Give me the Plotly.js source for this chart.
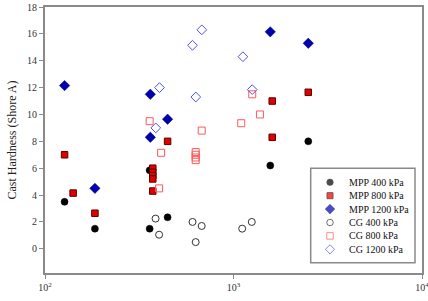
<!DOCTYPE html>
<html>
<head>
<meta charset="utf-8">
<script src="https://cdn.plot.ly/plotly-3.0.1.min.js"></script>
<style>
  html, body { margin: 0; padding: 0; background: #fff; }
  #chart { width: 428px; height: 301px; }
</style>
</head>
<body>
<div id="chart"></div>
<script>
// Cast hardness vs. log-scaled x for two process families at three pressures
const seriesNames = ['MPP 400 kPa', 'MPP 800 kPa', 'MPP 1200 kPa', 'CG 400 kPa', 'CG 800 kPa', 'CG 1200 kPa'];

const mpp400X = [127, 184, 359, 359, 447, 1567, 2493];
const mpp400Y = [3.5, 1.5, 1.5, 5.85, 2.35, 6.2, 8.0];

const mpp800X = [127, 141, 184, 373, 373, 373, 373, 373, 447, 1605, 1605, 2493];
const mpp800Y = [7.0, 4.15, 2.65, 6.0, 5.7, 5.45, 5.2, 4.3, 8.0, 11.0, 8.3, 11.65];

const mpp1200X = [127, 184, 362, 362, 447, 1567, 2493];
const mpp1200Y = [12.15, 4.5, 11.5, 8.3, 9.65, 16.15, 15.3];

const cg400X = [386, 403, 606, 630, 678, 1112, 1250];
const cg400Y = [2.25, 1.05, 2.0, 0.5, 1.7, 1.5, 2.0];

const cg800X = [359, 403, 413, 630, 630, 630, 630, 678, 1099, 1257, 1381];
const cg800Y = [9.5, 4.5, 7.15, 7.2, 7.0, 6.8, 6.6, 8.8, 9.35, 11.5, 10.0];

const cg1200X = [387, 405, 606, 631, 679, 1122, 1257];
const cg1200Y = [9.0, 12.0, 15.15, 11.3, 16.3, 14.3, 11.85];

const xTickVals = [100, 1000, 10000];
const xTickText = ['10<sup>2</sup>', '10<sup>3</sup>', '10<sup>4</sup>'];

const FONT = '"Liberation Serif", "Times New Roman", Times, serif';

// marker styles, one per series
const styles = [
  { symbol: 'circle',       size: 7,   color: '#000000', line: { color: '#000000', width: 0.5 } },
  { symbol: 'square',       size: 6.5, color: '#e00000', line: { color: '#5a0000', width: 1 } },
  { symbol: 'diamond',      size: 8,   color: '#0000b0', line: { color: '#00006a', width: 0.5 } },
  { symbol: 'circle-open',  size: 7,   color: '#333333', line: { color: '#333333', width: 1 } },
  { symbol: 'square-open',  size: 7,   color: '#ff5a5a', line: { color: '#ff5a5a', width: 1 } },
  { symbol: 'diamond-open', size: 7.5, color: '#5050f0', line: { color: '#5050f0', width: 1 } }
];

const xs = [mpp400X, mpp800X, mpp1200X, cg400X, cg800X, cg1200X];
const ys = [mpp400Y, mpp800Y, mpp1200Y, cg400Y, cg800Y, cg1200Y];

const traces = seriesNames.map((name, i) => ({
  type: 'scatter',
  mode: 'markers',
  name: name,
  x: xs[i],
  y: ys[i],
  marker: styles[i],
  showlegend: false,
  hoverinfo: 'x+y+name'
}));

// Legend box drawn on a pixel-scaled overlay axis pair
const legLeft = 310.7, legRight = 415, legTop = 168.3, legBottom = 262.7;
const legRow0 = 182.3, legRowGap = 13.4, legSymX = 330, legTextX = 347;

const legendRows = seriesNames.map((_, i) => legRow0 + i * legRowGap);

traces.push({
  type: 'scatter',
  mode: 'markers',
  xaxis: 'x2',
  yaxis: 'y2',
  x: seriesNames.map(() => legSymX),
  y: legendRows,
  marker: {
    symbol: styles.map(s => s.symbol),
    size: styles.map(s => s.size - 0.5),
    color: styles.map(s => s.color),
    line: { color: styles.map(s => s.line.color), width: styles.map(s => s.line.width) }
  },
  showlegend: false,
  hoverinfo: 'skip'
});

const annotations = seriesNames.map((name, i) => ({
  xref: 'x2', yref: 'y2',
  x: legTextX, y: legendRows[i],
  xanchor: 'left', yanchor: 'middle',
  text: name,
  showarrow: false,
  font: { family: FONT, size: 10, color: '#111' }
}));

const axisLine = '#8a8a8a';

const layout = {
  width: 428,
  height: 301,
  margin: { l: 45, r: 6, t: 7, b: 28, pad: 0 },
  paper_bgcolor: '#ffffff',
  plot_bgcolor: '#ffffff',
  font: { family: FONT, size: 10, color: '#222' },
  showlegend: false,
  xaxis: {
    type: 'log',
    range: [2, 4],
    tickvals: xTickVals,
    ticktext: xTickText,
    ticklabeloverflow: 'allow',
    ticks: 'outside',
    ticklen: 4,
    tickwidth: 1,
    tickcolor: axisLine,
    showline: true,
    linecolor: axisLine,
    linewidth: 2,
    mirror: true,
    showgrid: false,
    zeroline: false,
    tickfont: { family: FONT, size: 10, color: '#333' }
  },
  yaxis: {
    range: [-1.8, 18],
    tick0: 0,
    dtick: 2,
    ticks: 'outside',
    ticklen: 4,
    tickwidth: 1,
    tickcolor: axisLine,
    showline: true,
    linecolor: axisLine,
    linewidth: 2,
    mirror: true,
    showgrid: false,
    zeroline: false,
    tickfont: { family: FONT, size: 10, color: '#333' },
    title: { text: 'Cast Hardness (Shore A)', font: { family: FONT, size: 12, color: '#222' }, standoff: 8 }
  },
  xaxis2: { overlaying: 'x', anchor: 'y2', range: [45, 422], visible: false, fixedrange: true },
  yaxis2: { overlaying: 'y', anchor: 'x2', range: [273, 7], visible: false, fixedrange: true },
  shapes: [{
    type: 'rect', xref: 'x2', yref: 'y2',
    x0: legLeft, x1: legRight, y0: legTop, y1: legBottom,
    line: { color: axisLine, width: 1.5 },
    fillcolor: '#ffffff',
    layer: 'below'
  }],
  annotations: annotations
};

Plotly.newPlot('chart', traces, layout, { staticPlot: true, displayModeBar: false });
</script>
</body>
</html>
